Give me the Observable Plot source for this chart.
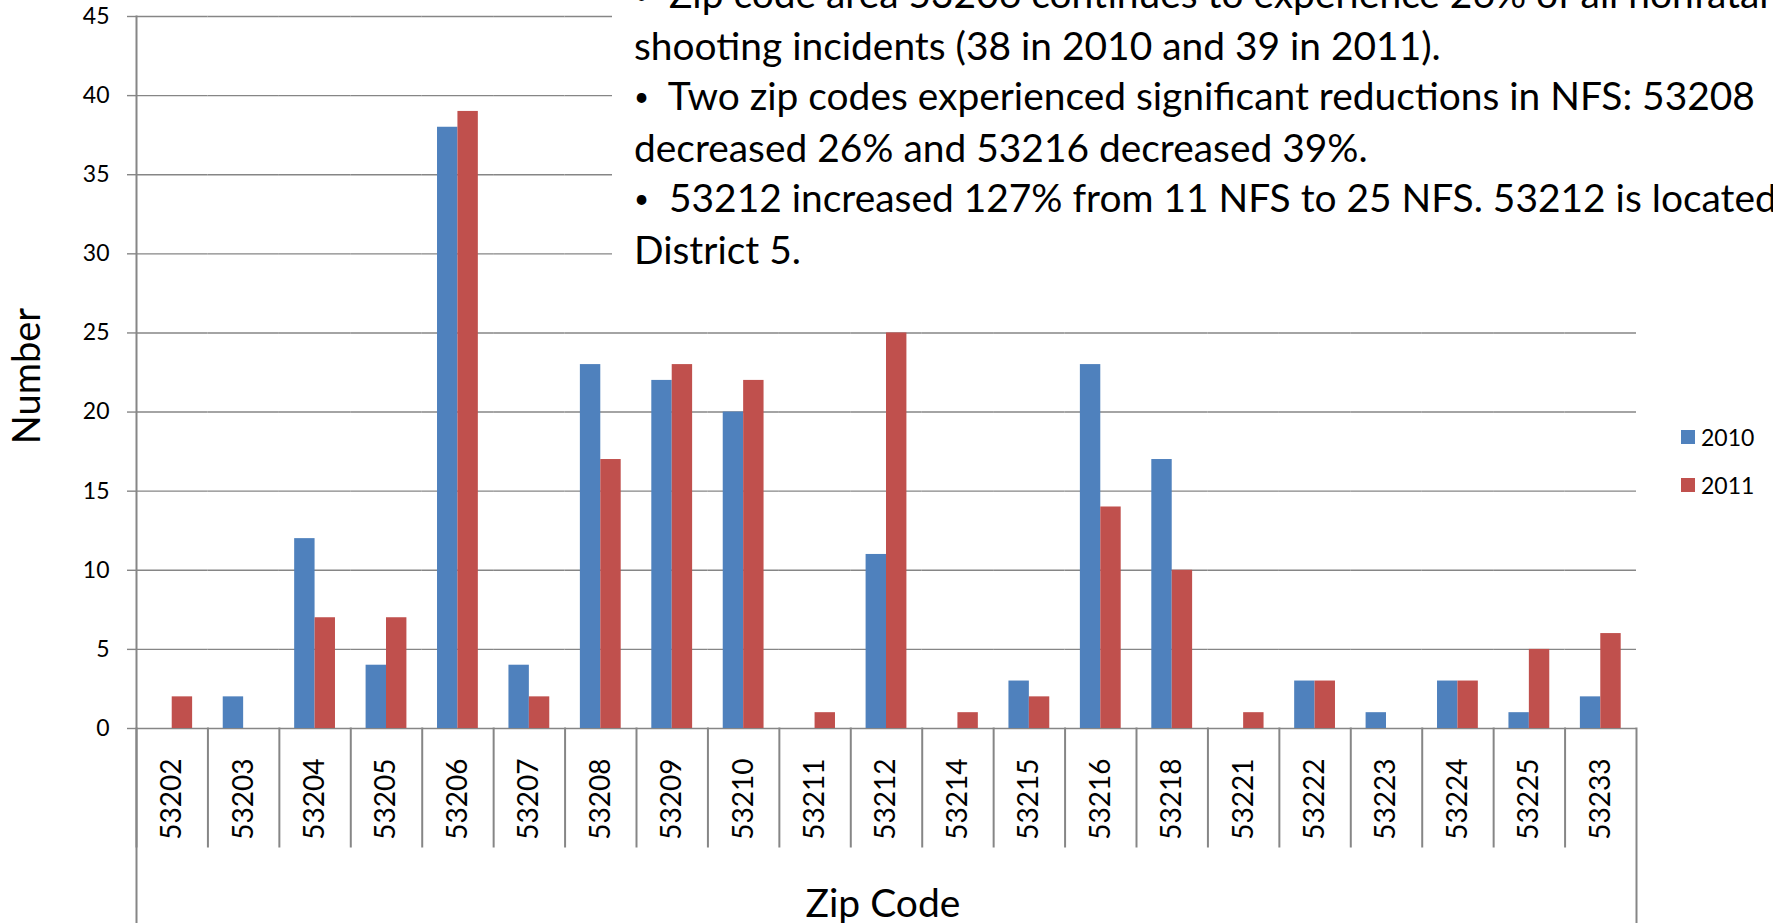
<!DOCTYPE html>
<html>
<head>
<meta charset="utf-8">
<script src="https://cdn.jsdelivr.net/npm/d3@7"></script>
<script src="https://cdn.jsdelivr.net/npm/@observablehq/plot@0.6"></script>
<style>
  html, body { margin: 0; padding: 0; background: #fff; }
  body { width: 1773px; height: 923px; overflow: hidden; position: relative; font-family: Lato, "Open Sans", sans-serif; color: #000; }
  #chart { position: absolute; left: 0; top: 0; }
  #chart svg [aria-label="y-axis tick label"], #chart svg [aria-label="y-axis tick label"] text { font-size: 23px !important; }
  .note { position: absolute; left: 612px; top: 0; width: 1161px; height: 290px; background: #fff; overflow: hidden; }
  .note .inner { position: absolute; left: 22px; top: -32px; font-size: 38.9px; line-height: 50.5px; white-space: nowrap; }
  .note .b { font-size: 26px; vertical-align: 4px; }
  .ylab { position: absolute; left: 25px; top: 376px; font-size: 38px; transform: translate(-50%, -50%) rotate(-90deg); white-space: nowrap; }
  .xlab { position: absolute; left: 883px; top: 883px; font-size: 39px; line-height: 39px; transform: translateX(-50%); white-space: nowrap; }
  .legend { position: absolute; left: 1681px; top: 423px; font-size: 23px; }
  .legend div { line-height: 28px; display: flex; align-items: center; height: 28px; margin-bottom: 20px; }
  .legend span.sw { display: inline-block; width: 14px; height: 14px; margin-right: 6px; }
</style>
</head>
<body>
<div id="chart"></div>
<div class="note"><div class="inner"><span class="b">•</span>&nbsp; Zip code area 53206 continues to experience 26% of all nonfatal<br>shooting incidents (38 in 2010 and 39 in 2011).<br><span class="b">•</span>&nbsp; Two zip codes experienced significant reductions in NFS: 53208<br>decreased 26% and 53216 decreased 39%.<br><span class="b">•</span>&nbsp; 53212 increased 127% from 11 NFS to 25 NFS. 53212 is located in<br>District 5.</div></div>
<div class="ylab">Number</div>
<div class="xlab">Zip Code</div>
<div class="legend" id="legend"></div>
<script>
const zips = ["53202","53203","53204","53205","53206","53207","53208","53209","53210","53211","53212","53214","53215","53216","53218","53221","53222","53223","53224","53225","53233"];
const values2010 = [0,2,12,4,38,4,23,22,20,0,11,0,3,23,17,0,3,1,3,1,2];
const values2011 = [2,0,7,7,39,2,17,23,22,1,25,1,2,14,10,1,3,0,3,5,6];
const years = ["2010","2011"];
const colors = ["#4F81BD","#C0504D"];
const yTicks = [0,5,10,15,20,25,30,35,40,45];

const data = zips.flatMap((z, i) => [
  {zip: z, year: years[0], value: values2010[i]},
  {zip: z, year: years[1], value: values2011[i]}
]);

const W = 1773, H = 923, mT = 16, mB = 195, mL = 136, mR = 137;
const frameH = H - mT - mB;
const gray = "#868686";

const chart = Plot.plot({
  width: W, height: H,
  marginTop: mT, marginBottom: mB, marginLeft: mL, marginRight: mR,
  style: {fontFamily: "Lato, 'Open Sans', sans-serif", fontSize: "23px", color: "#000", background: "transparent", overflow: "visible"},
  fx: {domain: zips, padding: 0, round: false, label: null},
  x: {domain: years, paddingInner: 0, paddingOuter: 0.75, round: false, axis: null},
  y: {domain: [0, 45], label: null},
  color: {domain: years, range: colors},
  marks: [
    Plot.gridY(yTicks, {stroke: gray, strokeOpacity: 1, strokeWidth: 1.4}),
    Plot.axisY({ticks: yTicks, tickSize: 9, tickPadding: 18, fontSize: 23, stroke: gray, strokeWidth: 1.4, label: null}),
    Plot.frame({anchor: "left", stroke: gray, strokeWidth: 2, insetTop: frameH, insetBottom: -118}),
    Plot.frame({facet: "super", anchor: "left", stroke: gray, strokeWidth: 2, insetBottom: -mB}),
    Plot.frame({facet: "super", anchor: "right", stroke: gray, strokeWidth: 2, insetTop: frameH, insetBottom: -mB}),
    Plot.barY(data, {fx: "zip", x: "year", y: "value", fill: "year"}),
    Plot.axisFx({anchor: "bottom", tickSize: 0, tickPadding: 30, tickRotate: -90, fontSize: 28, label: null})
  ]
});
document.getElementById("chart").appendChild(chart);

const legend = document.getElementById("legend");
years.forEach((y, i) => {
  const row = document.createElement("div");
  row.innerHTML = `<span class="sw" style="background:${colors[i]}"></span>${y}`;
  legend.appendChild(row);
});
</script>
</body>
</html>
